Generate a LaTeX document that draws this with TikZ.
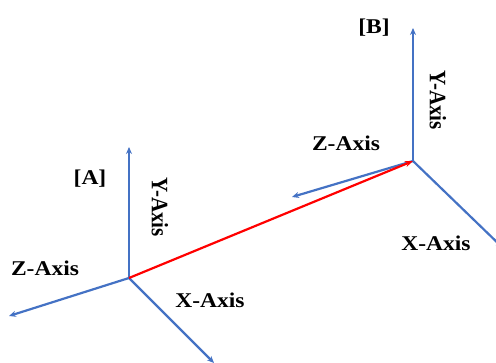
\documentclass[tikz,border=0pt]{standalone}
\usepackage{fontspec}
\setmainfont{Liberation Serif}
\usetikzlibrary{arrows.meta}
\definecolor{axisblue}{RGB}{68,114,196}
\begin{document}
\begin{tikzpicture}[x=1pt,y=-1pt,
  axisline/.style={draw=axisblue,line width=2.2pt,-{Stealth[length=7pt,width=6pt]}},
  redline/.style={draw=red,line width=2.2pt,-{Stealth[length=8pt,width=6pt]}},
  lbl/.style={font=\bfseries\fontsize{21}{23}\selectfont,inner sep=0pt,xscale=1.12}]
\useasboundingbox (0,0) rectangle (496,363);
% origins and axis ends
\coordinate (A) at (129,278);
\coordinate (AY) at (129,147);
\coordinate (AZ) at (9,316);
\coordinate (AX) at (214,363);
\coordinate (B) at (413,161);
\coordinate (BY) at (413,28);
\coordinate (BZ) at (292,197);
\coordinate (BX) at (503,248);
% axes
\draw[axisline] (A) -- (AY);
\draw[axisline] (A) -- (AZ);
\draw[axisline] (A) -- (AX);
\draw[axisline] (B) -- (BY);
\draw[axisline] (B) -- (BZ);
\draw[axisline] (B) -- (BX);
\draw[redline] (A) -- (B);
% labels
\node[lbl] (la) at (90,179) {[A]};
\node[lbl,rotate=-90] (lay) at (160,207) {Y-Axis};
\node[lbl] (laz) at (45,268) {Z-Axis};
\node[lbl] (lax) at (210,300) {X-Axis};
\node[lbl] (lb) at (374,28) {[B]};
\node[lbl,rotate=-90] (lby) at (438,100) {Y-Axis};
\node[lbl] (lbz) at (346,143) {Z-Axis};
\node[lbl] (lbx) at (436,243) {X-Axis};
\end{tikzpicture}
\end{document}
